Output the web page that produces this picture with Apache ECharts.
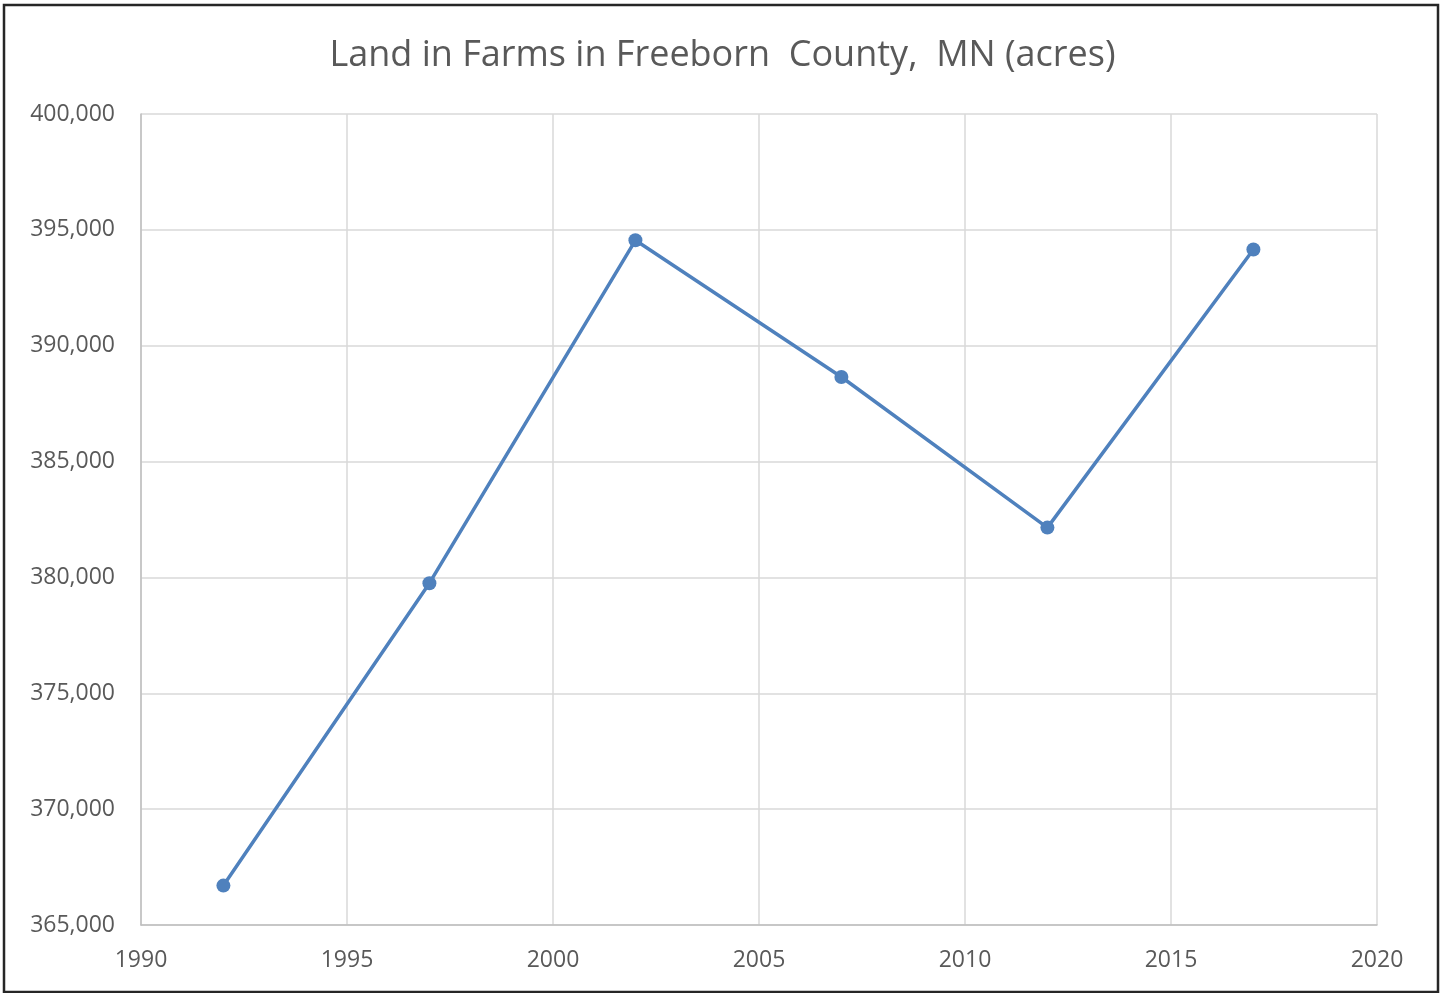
<!DOCTYPE html>
<html>
<head>
<meta charset="utf-8">
<script src="https://cdn.jsdelivr.net/npm/echarts@6/dist/echarts.min.js"></script>
<style>
    html, body { margin: 0; padding: 0; background: #fff; }
    #chart { width: 1445px; height: 993px; }
</style>
</head>
<body>
<div id="chart"></div>
<script>
var years = [1992, 1997, 2002, 2007, 2012, 2017];
var acres = [366700, 379750, 394550, 388650, 382150, 394150];

var textColor = '#595959';
var fontName = 'Open Sans';

var chartDom = document.getElementById('chart');
var myChart = echarts.init(chartDom);
var option;

option = {
    backgroundColor: '#fff',
    title: {
        text: 'Land in Farms in Freeborn  County,  MN (acres)',
        left: 'center',
        top: 33,
        textStyle: {
            fontFamily: fontName,
            fontSize: 36,
            fontWeight: 'normal',
            color: textColor
        }
    },
    graphic: [
        {
            type: 'rect',
            shape: { x: 4, y: 5, width: 1434, height: 987 },
            style: { fill: 'none', stroke: '#262626', lineWidth: 2.5 },
            z: -1
        }
    ],
    grid: {
        left: 141,
        right: 68,
        top: 114,
        bottom: 68
    },
    xAxis: {
        type: 'value',
        min: 1990,
        max: 2020,
        interval: 5,
        axisLine: { show: true, lineStyle: { color: '#bfbfbf', width: 1.5 } },
        axisTick: { show: false },
        axisLabel: {
            margin: 24,
            fontFamily: fontName,
            fontSize: 23,
            color: textColor,
            formatter: function (v) { return String(v); }
        },
        splitLine: { show: true, lineStyle: { color: '#d9d9d9', width: 1.5 } }
    },
    yAxis: {
        type: 'value',
        min: 365000,
        max: 400000,
        interval: 5000,
        axisLine: { show: true, lineStyle: { color: '#bfbfbf', width: 1.5 } },
        axisTick: { show: false },
        axisLabel: {
            margin: 26,
            fontFamily: fontName,
            fontSize: 23,
            color: textColor,
            formatter: function (v) { return v.toLocaleString('en-US'); }
        },
        splitLine: { show: true, lineStyle: { color: '#d9d9d9', width: 1.5 } }
    },
    series: [
        {
            type: 'line',
            data: years.map(function (y, i) { return [y, acres[i]]; }),
            symbol: 'circle',
            symbolSize: 14,
            lineStyle: { color: '#4f81bd', width: 3.5 },
            itemStyle: { color: '#4f81bd' },
            animation: false
        }
    ]
};
option && myChart.setOption(option);
</script>
</body>
</html>
